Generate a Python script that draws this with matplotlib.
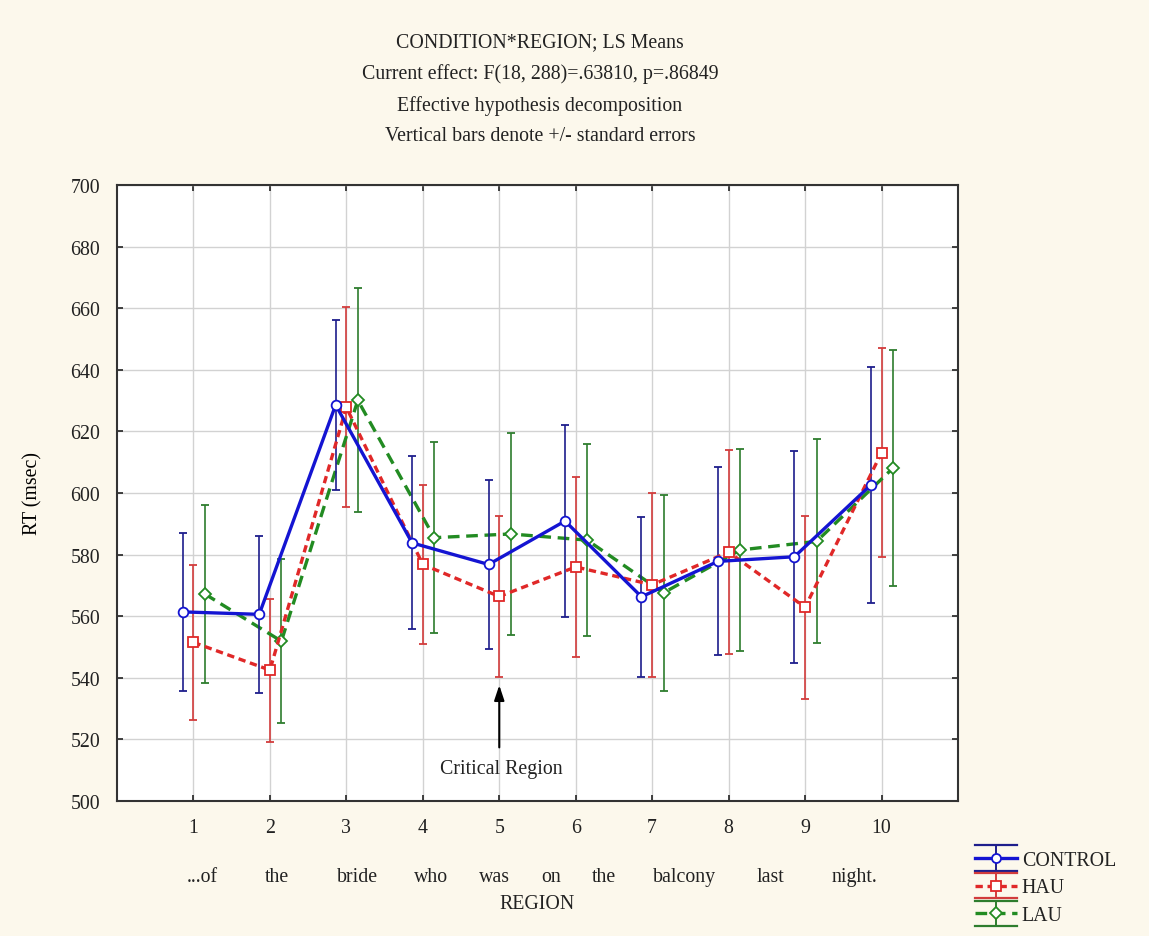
import matplotlib
matplotlib.use("Agg")
import matplotlib.pyplot as plt
from matplotlib.transforms import blended_transform_factory
from matplotlib.legend_handler import HandlerBase
from matplotlib.lines import Line2D

# ---------------- data ----------------
regions = [1, 2, 3, 4, 5, 6, 7, 8, 9, 10]
words = ["...of", "the", "bride", "who", "was", "on", "the", "balcony", "last", "night."]

control_mean = [561.4, 560.6, 628.6, 583.8, 576.8, 590.9, 566.3, 577.8, 579.3, 602.6]
control_se = [25.6, 25.6, 27.5, 28.1, 27.5, 31.3, 26.0, 30.5, 34.4, 38.2]

hau_mean = [551.5, 542.5, 627.8, 576.8, 566.4, 576.0, 570.2, 580.8, 562.9, 613.1]
hau_se = [25.1, 23.2, 32.5, 25.8, 26.0, 29.2, 29.8, 33.2, 29.7, 34.0]

lau_mean = [567.2, 551.9, 630.1, 585.5, 586.7, 584.7, 567.6, 581.5, 584.3, 608.1]
lau_se = [28.8, 26.7, 36.3, 30.9, 32.9, 31.2, 31.9, 32.8, 33.1, 38.2]

yticks = [500, 520, 540, 560, 580, 600, 620, 640, 660, 680, 700]
title_lines = [
    "CONDITION*REGION; LS Means",
    "Current effect: F(18, 288)=.63810, p=.86849",
    "Effective hypothesis decomposition",
    "Vertical bars denote +/- standard errors",
]

# ---------------- layout / style ----------------
W, H = 1149, 937
BG = "#fcf8ec"
FONT = "Liberation Serif"
FS = 14.3
word_x = [1.12, 2.09, 3.14, 4.11, 4.94, 5.68, 6.37, 7.42, 8.55, 9.64]

plt.rcParams["font.family"] = [FONT, "DejaVu Serif"]

fig = plt.figure(figsize=(W / 100, H / 100), dpi=100, facecolor=BG)
ax = fig.add_axes([117 / W, 1 - 802 / H, (958 - 117) / W, (802 - 186) / H])
ax.set_facecolor("white")

series = [
    ("CONTROL", control_mean, control_se, -0.14, "#1414d2", "#1e1e8c", "o", "-", 2.4),
    ("HAU", hau_mean, hau_se, 0.0, "#e02828", "#d23c3c", "s", (0, (2.2, 1.4)), 2.4),
    ("LAU", lau_mean, lau_se, 0.15, "#228B22", "#2e7d2e", "D", (0, (3.5, 2.0)), 2.4),
]


class ErrGlyph:
    def __init__(self, lc, ec, mk, ls, lw):
        self.lc, self.ec, self.mk, self.ls, self.lw = lc, ec, mk, ls, lw


class HandlerErrGlyph(HandlerBase):
    def create_artists(self, legend, orig, xdescent, ydescent, width, height,
                       fontsize, trans):
        cy = height / 2 - ydescent
        x0, x1 = -xdescent, -xdescent + width
        cx = (x0 + x1) / 2
        half = 9.3
        arts = []
        for yy in (cy - half, cy + half):
            arts.append(Line2D([x0, x1], [yy, yy], color=orig.ec, lw=1.6))
        arts.append(Line2D([cx, cx], [cy - half, cy + half], color=orig.ec, lw=1.4))
        arts.append(Line2D([x0, x1], [cy, cy], color=orig.lc, lw=orig.lw,
                           linestyle=orig.ls))
        arts.append(Line2D([cx], [cy], marker=orig.mk, markersize=6.5,
                           markerfacecolor="white", markeredgecolor=orig.lc,
                           markeredgewidth=1.3, linestyle="none"))
        for a in arts:
            a.set_transform(trans)
        return arts


handles = []
for i, (name, m, se, off, lc, ec, mk, ls, lw) in enumerate(series):
    xs = [r + off for r in regions]
    ax.errorbar(xs, m, yerr=se, color=lc, ecolor=ec, elinewidth=1.2,
                capsize=3, capthick=1.5, linestyle=ls, linewidth=lw,
                marker=mk, markersize=7 if mk != "D" else 6,
                markerfacecolor="white", markeredgecolor=lc,
                markeredgewidth=1.3, label=name, zorder=3 + (2 - i) * 0.1)
    handles.append(ErrGlyph(lc, ec, mk, ls, lw))

ax.set_xlim(0, 11)
ax.set_ylim(500, 700)
ax.set_xticks(regions)
ax.set_xticklabels([str(r) for r in regions])
ax.set_yticks(yticks)
ax.grid(True, color="#d2d2d2", linewidth=1.0, zorder=0)
ax.set_axisbelow(True)
ax.tick_params(direction="in", length=4, width=1.2, top=True, right=True,
               labelsize=FS, pad=12, colors="#222222")
for s in ax.spines.values():
    s.set_linewidth(1.5)
    s.set_color("#333333")

ax.set_ylabel("RT (msec)", fontsize=FS)
ax.yaxis.set_label_coords(-(117 - 42) / 841, 0.5)

trans = blended_transform_factory(ax.transData, ax.transAxes)
for wx, w in zip(word_x, words):
    ax.text(wx, -(878 - 802) / 616, w, transform=trans, ha="center", va="center",
            fontsize=FS, color="#222222")
ax.text(0.5, -(905 - 802) / 616, "REGION", transform=ax.transAxes, ha="center",
        va="center", fontsize=FS, color="#222222")

# annotation
ax.annotate("", xy=(5, 538.5), xytext=(5, 516.5),
            arrowprops=dict(arrowstyle="-|>,head_length=0.9,head_width=0.3",
                            color="black", lw=1.5))
ax.text(5.03, 510.5, "Critical Region", ha="center", va="center", fontsize=FS,
        color="#222222")

# titles
for k, line in enumerate(title_lines):
    fig.text(540 / W, 1 - (43 + 31.3 * k) / H, line, ha="center", va="center",
             fontsize=FS, color="#222222")

leg = fig.legend(handles=handles, labels=[s[0] for s in series],
                 loc="center left", bbox_to_anchor=(975 / W, 1 - 889 / H),
                 frameon=False, fontsize=FS, handlelength=2.1, handletextpad=0.25,
                 labelspacing=0.45, borderpad=0.0, borderaxespad=0.0,
                 handler_map={ErrGlyph: HandlerErrGlyph()})
for t in leg.get_texts():
    t.set_color("#222222")

fig.savefig("out.png", dpi=100, facecolor=BG)
